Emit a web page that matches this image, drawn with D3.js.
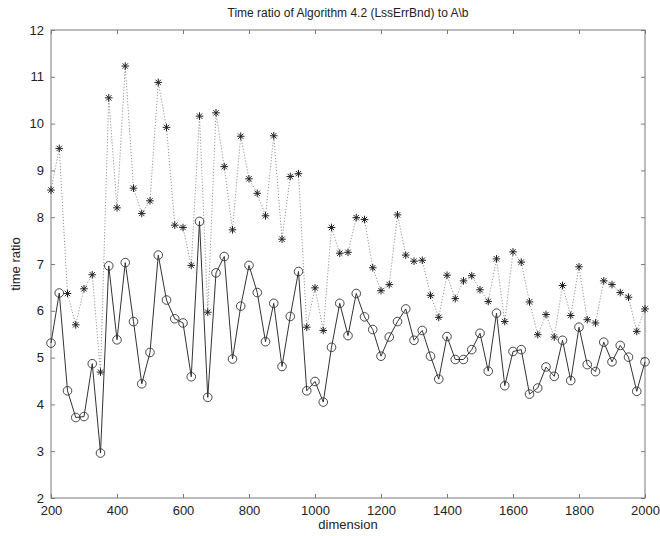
<!DOCTYPE html>
<html><head><meta charset="utf-8">
<script src="https://cdn.jsdelivr.net/npm/d3@7"></script>
<style>
body{margin:0;background:#fff;}
svg{display:block;font-family:"Liberation Sans",Arial,sans-serif;}
</style></head>
<body><svg id="chart" width="660" height="536"></svg>
<script>
const dims = d3.range(200, 2001, 25);
const starValues = [8.58,9.47,6.37,5.70,6.47,6.77,4.69,10.55,8.20,11.23,8.62,8.08,8.35,10.88,9.92,7.83,7.78,6.97,10.16,5.97,10.23,9.08,7.73,9.73,8.82,8.51,8.03,9.74,7.53,8.87,8.93,5.65,6.49,5.58,7.78,7.23,7.25,7.99,7.95,6.92,6.43,6.56,8.05,7.19,7.06,7.08,6.33,5.86,6.76,6.26,6.64,6.75,6.45,6.20,7.11,5.77,7.26,7.04,6.19,5.49,5.92,5.44,6.54,5.90,6.94,5.81,5.74,6.64,6.56,6.39,6.29,5.56,6.04];
const circleValues = [5.31,6.38,4.29,3.72,3.74,4.87,2.96,6.96,5.38,7.03,5.77,4.44,5.11,7.19,6.23,5.83,5.74,4.59,7.91,4.15,6.81,7.16,4.97,6.10,6.97,6.39,5.34,6.16,4.81,5.88,6.84,4.29,4.49,4.05,5.22,6.16,5.47,6.37,5.87,5.60,5.03,5.44,5.77,6.04,5.37,5.58,5.03,4.54,5.45,4.96,4.96,5.17,5.52,4.71,5.95,4.40,5.13,5.17,4.22,4.35,4.80,4.60,5.37,4.51,5.65,4.85,4.70,5.33,4.91,5.26,5.01,4.28,4.91];
const xTicks = [200,400,600,800,1000,1200,1400,1600,1800,2000];
const yTicks = [2,3,4,5,6,7,8,9,10,11,12];
const titleText = "Time ratio of Algorithm 4.2 (LssErrBnd) to A\\b";
const xLabel = "dimension";
const yLabel = "time ratio";

const L=51,R=645,T=30,B=498;
const svg = d3.select("#chart");
const x = d3.scaleLinear().domain([200,2000]).range([L,R]);
const y = d3.scaleLinear().domain([2,12]).range([B,T]);
const axisColor="#7a7a7a", textColor="#222";

// frame
svg.append("rect").attr("x",L).attr("y",T).attr("width",R-L).attr("height",B-T)
  .attr("fill","none").attr("stroke",axisColor).attr("stroke-width",1);

function styleAxis(g){
  g.select(".domain").remove();
  g.selectAll(".tick line").attr("stroke",axisColor);
  g.selectAll(".tick text").attr("fill",textColor).style("font-size","13px").style("font-family","Liberation Sans, Arial, sans-serif");
}
// bottom
svg.append("g").attr("transform",`translate(0,${B})`)
  .call(d3.axisBottom(x).tickValues(xTicks).tickSize(-4).tickPadding(8).tickFormat(d3.format("d")))
  .call(styleAxis);
// top
svg.append("g").attr("transform",`translate(0,${T})`)
  .call(d3.axisTop(x).tickValues(xTicks).tickSize(-4).tickFormat(""))
  .call(styleAxis);
// left
svg.append("g").attr("transform",`translate(${L},0)`)
  .call(d3.axisLeft(y).tickValues(yTicks).tickSize(-4).tickPadding(7).tickFormat(d3.format("d")))
  .call(styleAxis);
// right
svg.append("g").attr("transform",`translate(${R},0)`)
  .call(d3.axisRight(y).tickValues(yTicks).tickSize(-4).tickFormat(""))
  .call(styleAxis);

const starData = dims.map((d,i)=>({x:d,y:starValues[i]}));
const circData = dims.map((d,i)=>({x:d,y:circleValues[i]}));
const line = d3.line().x(d=>x(d.x)).y(d=>y(d.y));

svg.append("path").datum(starData).attr("d",line).attr("fill","none")
  .attr("stroke","#8a8a8a").attr("stroke-width",0.9).attr("stroke-dasharray","1.2,1.8");
svg.append("path").datum(circData).attr("d",line).attr("fill","none")
  .attr("stroke","#333").attr("stroke-width",1);

// circles
svg.append("g").selectAll("circle").data(circData).join("circle")
  .attr("cx",d=>x(d.x)).attr("cy",d=>y(d.y)).attr("r",4.3)
  .attr("fill","none").attr("stroke","#333").attr("stroke-width",0.9);

// stars
const s=3.8, sd=2.7;
const starG = svg.append("g").selectAll("g").data(starData).join("g")
  .attr("transform",d=>`translate(${x(d.x)},${y(d.y)})`);
starG.append("path")
  .attr("d",`M${-s},0L${s},0M0,${-s}L0,${s}M${-sd},${-sd}L${sd},${sd}M${-sd},${sd}L${sd},${-sd}`)
  .attr("stroke","#222").attr("stroke-width",1).attr("fill","none");

// title & labels
svg.append("text").attr("x",(L+R)/2).attr("y",17).attr("text-anchor","middle")
  .attr("fill",textColor).style("font-size","12px").text(titleText);
svg.append("text").attr("x",(L+R)/2).attr("y",529).attr("text-anchor","middle")
  .attr("fill",textColor).style("font-size","13px").text(xLabel);
svg.append("text").attr("transform",`translate(20,${(T+B)/2}) rotate(-90)`).attr("text-anchor","middle")
  .attr("fill",textColor).style("font-size","13px").text(yLabel);
</script></body></html>
